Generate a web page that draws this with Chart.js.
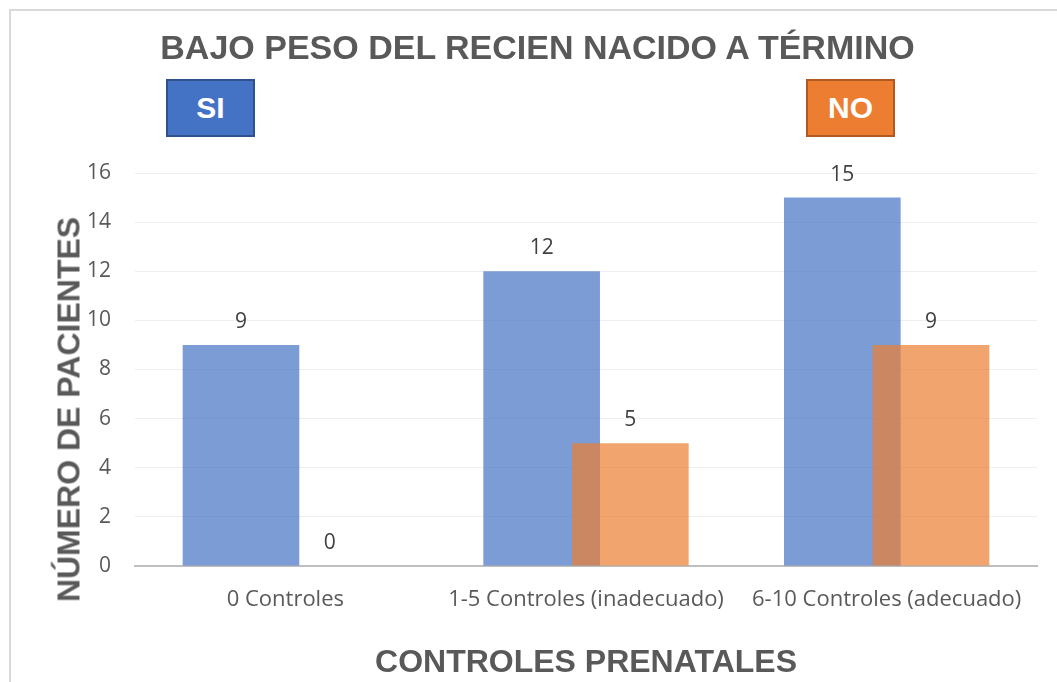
<!DOCTYPE html>
<html>
<head>
<meta charset="utf-8">
<script src="https://cdn.jsdelivr.net/npm/chart.js@4.4.1/dist/chart.umd.min.js"></script>
<style>
  html, body { margin: 0; padding: 0; background: #fff; }
  #wrap { position: relative; width: 1057px; height: 682px; overflow: hidden; }
  #frame { position: absolute; left: 9px; top: 9px; width: 1100px; height: 700px; border: 2px solid #d9d9d9; box-sizing: border-box; }
  #chart { position: absolute; left: 0; top: 0; }
  #title { position: absolute; left: 0; width: 1075px; top: 28px; line-height: 40px; text-align: center; font: bold 34px "Liberation Sans", Arial, sans-serif; color: #595959; }
  #yTitle { position: absolute; left: 69px; top: 411px; width: 500px; margin-left: -250px; margin-top: -20px; line-height: 40px; text-align: center; transform: rotate(-90deg); font: bold 32px "Liberation Sans", Arial, sans-serif; color: #595959; white-space: nowrap; }
  .key { position: absolute; top: 79px; width: 89px; height: 58px; box-sizing: border-box; color: #fff; font: bold 30px "Liberation Sans", Arial, sans-serif; text-align: center; line-height: 54px; }
  #keySi { left: 166px; background: #4472c4; border: 2px solid #2f528f; }
  #keyNo { left: 806px; background: #ed7d31; border: 2px solid #ae5a21; }
</style>
</head>
<body>
<div id="wrap">
  <div id="frame"></div>
  <canvas id="chart" width="1057" height="682"></canvas>
  <div id="title">BAJO PESO DEL RECIEN NACIDO A TÉRMINO</div>
  <div id="yTitle">NÚMERO DE PACIENTES</div>
  <div class="key" id="keySi">SI</div>
  <div class="key" id="keyNo">NO</div>
</div>
<script>
var categorias = ['0 Controles', '1-5 Controles (inadecuado)', '6-10 Controles (adecuado)']
var valoresSi = [9, 12, 15]
var valoresNo = [0, 5, 9]
var serieNombres = ['SI', 'NO']

// la serie NO se pinta encima de la serie SI (como en Excel)
var ordenPintado = {
    id: 'ordenPintado',
    beforeDatasetDraw: function (chart, args) {
        if (args.index === 1) return false
    },
    afterDatasetsDraw: function (chart) {
        chart.getDatasetMeta(1).controller.draw()
    }
}

// etiquetas de valor encima de cada barra
var etiquetasValor = {
    id: 'etiquetasValor',
    afterDatasetsDraw: function (chart) {
        var ctx = chart.ctx
        ctx.save()
        ctx.font = '21px "Open Sans", sans-serif'
        ctx.fillStyle = '#404040'
        ctx.textAlign = 'center'
        ctx.textBaseline = 'middle'
        chart.data.datasets.forEach(function (ds, i) {
            chart.getDatasetMeta(i).data.forEach(function (bar, j) {
                ctx.fillText(ds.data[j], bar.x, bar.y - 23)
            })
        })
        ctx.restore()
    }
}

var ctx = document.getElementById('chart').getContext('2d')
var grafico = new Chart(ctx, {
    type: 'bar',
    data: {
        labels: categorias,
        datasets: [{
            label: serieNombres[0],
            data: valoresSi,
            backgroundColor: 'rgba(68,114,196,0.7)'
        }, {
            label: serieNombres[1],
            data: valoresNo,
            backgroundColor: 'rgba(237,125,49,0.7)'
        }]
    },
    options: {
        responsive: false,
        animation: false,
        layout: { padding: { top: 173, right: 20, left: 0, bottom: 0 } },
        categoryPercentage: 0.59,
        barPercentage: 1.315,
        plugins: {
            legend: { display: false },
            tooltip: { enabled: false }
        },
        scales: {
            x: {
                grid: { display: false },
                border: { color: '#bfbfbf', width: 2 },
                ticks: { color: '#595959', font: { family: 'Open Sans', size: 22 }, padding: 13 },
                title: {
                    display: true,
                    text: 'CONTROLES PRENATALES',
                    color: '#595959',
                    font: { family: 'Liberation Sans', size: 32, weight: 'bold' },
                    padding: { top: 24, bottom: 0 }
                },
                afterFit: function (s) { s.height = 116 }
            },
            y: {
                min: 0,
                max: 16,
                ticks: { stepSize: 2, color: '#595959', font: { family: 'Open Sans', size: 21 }, padding: 24 },
                grid: { color: '#eeeeee', drawTicks: false },
                border: { display: false },
                afterFit: function (s) { s.width = 135 }
            }
        }
    },
    plugins: [ordenPintado, etiquetasValor]
})
</script>
</body>
</html>
